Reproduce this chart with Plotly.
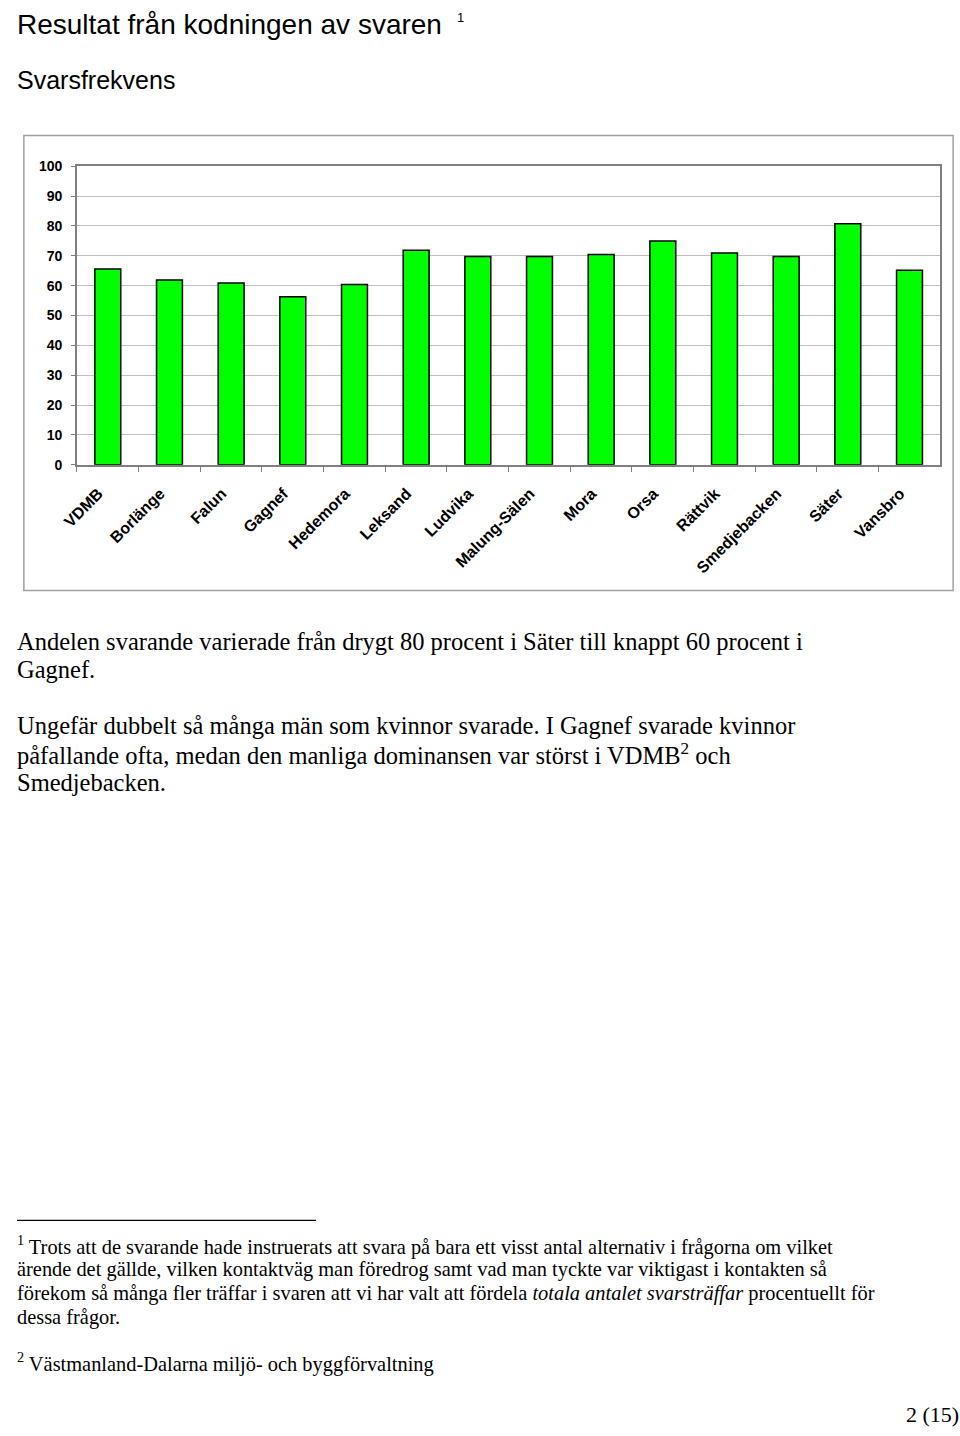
import plotly.graph_objects as go

W, H = 960, 1436

categories = ["VDMB", "Borlänge", "Falun", "Gagnef", "Hedemora", "Leksand", "Ludvika",
              "Malung-Sälen", "Mora", "Orsa", "Rättvik", "Smedjebacken", "Säter", "Vansbro"]
svarsfrekvens = [65.6, 61.9, 60.9, 56.3, 60.4, 71.9, 69.8, 69.8, 70.4, 75.0, 70.9, 69.8, 80.7, 65.2]
y_ticks = [0, 10, 20, 30, 40, 50, 60, 70, 80, 90, 100]

# pixel position (from the top-left of the page) -> paper fraction
def px(x):
    return x / W

def py(y):
    return 1 - y / H

fig = go.Figure()
fig.add_trace(go.Bar(
    x=categories, y=svarsfrekvens,
    marker=dict(color="#00ff00", line=dict(color="#000000", width=1.5)),
    width=0.42,
))

sans = "Arial, Liberation Sans, sans-serif"
serif = "Garamond, Liberation Serif, serif"

pad = "<span style='color:rgba(0,0,0,0)'>_.</span>"

fig.update_layout(
    width=W, height=H,
    margin=dict(l=0, r=0, t=0, b=0),
    paper_bgcolor="white", plot_bgcolor="white",
    showlegend=False,
    xaxis=dict(
        domain=[px(62), px(940)],
        range=[-0.5, 13.5],
        tickmode="array",
        tickvals=categories,
        ticktext=[c + pad for c in categories],
        tickangle=-45,
        tickfont=dict(family=sans, size=16, color="black", weight="bold"),
        showline=True, linecolor="#808080", linewidth=1.5, mirror=True,
        ticks="outside", ticklen=5, tickcolor="#808080", tickson="boundaries",
        ticklabelstandoff=2,
        showgrid=False,
    ),
    yaxis=dict(
        domain=[py(462), py(160)],
        range=[0, 100],
        tickvals=y_ticks,
        tickfont=dict(family=sans, size=14, color="black", weight="bold"),
        showline=True, linecolor="#808080", linewidth=1.5, mirror=True,
        ticks="outside", ticklen=4, tickcolor="#808080",
        ticklabelstandoff=6,
        showgrid=True, gridcolor="#c0c0c0", gridwidth=1,
        zeroline=False,
    ),
)

# outer chart frame
fig.add_shape(type="rect", xref="paper", yref="paper",
              x0=px(8), x1=px(953), y0=py(589), y1=py(129),
              line=dict(color="#a0a0a0", width=1.5), layer="below")

# footnote rule
fig.add_shape(type="line", xref="paper", yref="paper",
              x0=px(1), x1=px(305), y0=py(1226), y1=py(1226),
              line=dict(color="black", width=1.2))

def text(x, y, s, size, family, anchor="left", yanchor="middle"):
    fig.add_annotation(xref="paper", yref="paper", x=px(x), y=py(y), text=s,
                       showarrow=False, xanchor=anchor, yanchor=yanchor,
                       borderpad=0,
                       font=dict(family=family, size=size, color="black"))

# all annotation boxes are kept inside the page
text(0, 0, "Resultat från kodningen av svaren", 28, sans, yanchor="top")
text(447, 1, "1", 13, sans, yanchor="top")
text(0, 73, "Svarsfrekvens", 25, sans)

body = 24.5
text(0, 641, "Andelen svarande varierade från drygt 80 procent i Säter till knappt 60 procent i", body, serif)
text(0, 669, "Gagnef.", body, serif)
text(0, 726, "Ungefär dubbelt så många män som kvinnor svarade. I Gagnef svarade kvinnor", body, serif)
text(0, 754, "påfallande ofta, medan den manliga dominansen var störst i VDMB<sup>2</sup> och", body, serif)
text(0, 783, "Smedjebacken.", body, serif)

fn = 20.4
text(0, 1251, "<sup>1</sup> Trots att de svarande hade instruerats att svara på bara ett visst antal alternativ i frågorna om vilket", fn, serif)
text(0, 1276, "ärende det gällde, vilken kontaktväg man föredrog samt vad man tyckte var viktigast i kontakten så", fn, serif)
text(0, 1300, "förekom så många fler träffar i svaren att vi har valt att fördela <i>totala antalet svarsträffar</i> procentuellt för", fn, serif)
text(0, 1324, "dessa frågor.", fn, serif)
text(0, 1370, "<sup>2</sup> Västmanland-Dalarna miljö- och byggförvaltning", fn, serif)

text(960, 1436, "2 (15)", 22, serif, anchor="right", yanchor="bottom")

fig.write_html("out.html")
